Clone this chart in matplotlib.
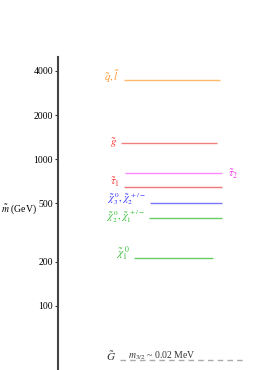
import matplotlib
matplotlib.use("Agg")
import matplotlib.pyplot as plt
from matplotlib.ticker import FixedLocator, FixedFormatter, NullLocator

plt.rcParams['font.family'] = ['Liberation Serif', 'DejaVu Serif']
plt.rcParams['mathtext.fontset'] = 'stix'

# data
particles = ['sq', 'gluino', 'stau2', 'stau1', 'chi3', 'chi2', 'chi1', 'gravitino']
labels = [r'$\tilde{q},\tilde{l}$', r'$\tilde{g}$', r'$\tilde{\tau}_2$', r'$\tilde{\tau}_1$',
          r'$\tilde{\chi}_3^{\ 0},\tilde{\chi}_2^{\ +/-}$', r'$\tilde{\chi}_2^{\ 0},\tilde{\chi}_1^{\ +/-}$',
          r'$\tilde{\chi}_1^{\ 0}$', r'$\tilde{G}$']
masses = [3500, 1300, 810, 650, 500, 400, 212, 43]
yticks = [100, 200, 500, 1000, 2000, 4000]
ytick_labels = ['100', '200', '500', '1000', '2000', '4000']

# style
line_colors = ['#FFB870', '#F08080', '#FF88FF', '#F07878', '#7878FF', '#66CC66', '#66CC66', '#AAAAAA']
label_colors = ['#FF9933', '#FF3333', '#EE33EE', '#FF3333', '#3333FF', '#33BB33', '#33BB33', '#333333']
x0 = [124, 121, 125, 124, 150, 149, 134, 120]
x1 = [220, 217, 222, 222, 222, 222, 213, 243]
label_side = ['l', 'l', 'r', 'l', 'l', 'l', 'l', 'l']
label_dy = [2, 0, -1, 3, 3, 0.5, 3, 3]
label_fs = [8, 8, 8, 8, 7.5, 7.5, 8, 8]

W, H = 269, 370
fig = plt.figure(figsize=(W/100, H/100), dpi=100)
ax = fig.add_axes([58/W, 0, 1 - 58/W, 1 - 57/H])
ax.set_yscale('log')
ax.set_ylim(36.6, 4983)
ax.set_xlim(58, 269)

for i in range(len(particles)):
    ls = '--' if particles[i] == 'gravitino' else '-'
    ax.plot([x0[i], x1[i]], [masses[i], masses[i]], color=line_colors[i], lw=1.0,
            ls=ls, dashes=(4, 3) if ls == '--' else (None, None), solid_capstyle='butt')
    if label_side[i] == 'l':
        ax.annotate(labels[i], xy=(x0[i], masses[i]), xytext=(-3, label_dy[i]),
                    textcoords='offset points', ha='right', va='center',
                    color=label_colors[i], fontsize=label_fs[i])
    else:
        ax.annotate(labels[i], xy=(x1[i], masses[i]), xytext=(4, label_dy[i]),
                    textcoords='offset points', ha='left', va='center',
                    color=label_colors[i], fontsize=label_fs[i])

ax.annotate(r'$m_{3/2}$ ~ 0.02 MeV', xy=(128, 43), xytext=(0, 3),
            textcoords='offset points', ha='left', va='center', color='#333333', fontsize=7)

ax.yaxis.set_major_locator(FixedLocator(yticks))
ax.yaxis.set_major_formatter(FixedFormatter(ytick_labels))
ax.yaxis.set_minor_locator(NullLocator())
ax.tick_params(axis='y', direction='out', length=2.5, width=0.8, labelsize=7, pad=1, color='#333333')
ax.set_xticks([])
for s in ['top', 'right', 'bottom']:
    ax.spines[s].set_visible(False)
ax.spines['left'].set_linewidth(1.5)
ax.spines['left'].set_color('#444444')

fig.text(37/W, 1 - 209/H, r'$\tilde{m}$ (GeV)', ha='right', va='center', fontsize=7)

fig.savefig('out.png', dpi=100)
